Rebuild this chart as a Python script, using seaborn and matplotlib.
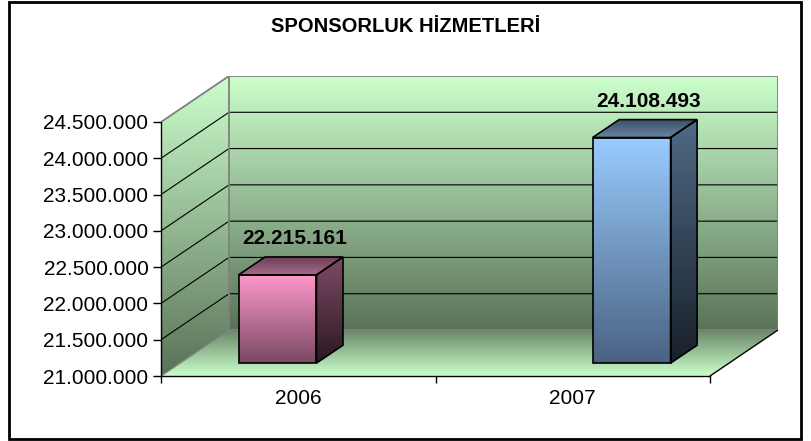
import numpy as np
import pandas as pd
import matplotlib
matplotlib.use("Agg")
import matplotlib.pyplot as plt
from matplotlib.patches import Polygon, Rectangle
from matplotlib.colors import to_rgb
from matplotlib.ticker import FuncFormatter
import seaborn as sns

# veriler
years = ["2006", "2007"]
amounts = [22215161, 24108493]
title = "SPONSORLUK HİZMETLERİ"
y_min, y_max, y_step = 21_000_000, 24_500_000, 500_000

# renkler (üst, alt)
front_cols = [("#FF99CC", "#7A4862"), ("#99CCFF", "#4A6282")]
side_cols = [("#7E4C66", "#2A1822"), ("#506A86", "#18202A")]
top_cols = [("#6E3E58", "#A86A8A"), ("#3E5068", "#6A86A4")]

sns.set_style("white")
plt.rcParams["font.family"] = ["Liberation Sans", "DejaVu Sans"]
plt.rcParams.update({"text.color": "black", "xtick.color": "black",
                     "ytick.color": "black", "axes.labelcolor": "black"})

W, H = 811, 441
fig = plt.figure(figsize=(W / 100, H / 100), dpi=100)

# ön yüz kutusu ve derinlik (piksel)
fx0, fx1, fy0, fy1 = 161, 710, 376, 122
ddx, ddy = 68, 46
ax = fig.add_axes([fx0 / W, 1 - fy0 / H, (fx1 + ddx - fx0) / W, (fy0 - fy1 + ddy) / H])

n = len(years)
xlo, xhi = -0.5, n - 0.5
DX = (xhi - xlo) * ddx / (fx1 - fx0)
DY = (y_max - y_min) * ddy / (fy0 - fy1)


def grad_fill(verts, c_top, c_bot, z, edge="none", lw=0):
    verts = np.asarray(verts, float)
    poly = Polygon(verts, closed=True, facecolor="none", edgecolor=edge, lw=lw, zorder=z + 0.01)
    ax.add_patch(poly)
    t = np.linspace(0, 1, 256)[:, None]
    img = (1 - t) * np.array(to_rgb(c_bot)) + t * np.array(to_rgb(c_top))
    im = ax.imshow(img[:, None, :],
                   extent=[verts[:, 0].min(), verts[:, 0].max(), verts[:, 1].min(), verts[:, 1].max()],
                   origin="lower", aspect="auto", interpolation="bilinear", zorder=z)
    im.set_clip_path(poly)
    return poly


# duvarlar ve zemin
grad_fill([(xlo + DX, y_min + DY), (xhi + DX, y_min + DY), (xhi + DX, y_max + DY), (xlo + DX, y_max + DY)],
          "#CCFFCC", "#5A7258", 0)
grad_fill([(xlo, y_min), (xlo + DX, y_min + DY), (xlo + DX, y_max + DY), (xlo, y_max)],
          "#CCFFCC", "#5A7258", 0)
grad_fill([(xlo, y_min), (xhi, y_min), (xhi + DX, y_min + DY), (xlo + DX, y_min + DY)],
          "#6A8868", "#CCFFCC", 0)

# kılavuz çizgileri
for v in np.arange(y_min + y_step, y_max, y_step):
    ax.plot([xlo, xlo + DX, xhi + DX], [v, v + DY, v + DY], color="black", lw=0.8, zorder=1)

gray = "#808080"
ax.plot([xlo + DX, xlo + DX, xhi + DX, xhi + DX, xlo + DX],
        [y_min + DY, y_max + DY, y_max + DY, y_min + DY, y_min + DY], color=gray, lw=1.3, zorder=1.5)
ax.plot([xlo, xlo + DX], [y_max, y_max + DY], color=gray, lw=1.3, zorder=1.5)
ax.plot([xlo, xlo + DX], [y_min, y_min + DY], color=gray, lw=1.0, zorder=1.5)
ax.plot([xhi, xhi + DX], [y_min, y_min + DY], color="black", lw=1.0, zorder=1.5)

# çubuklar
spread = 1.29
xpos = (np.arange(n) - (n - 1) / 2) * spread + (n - 1) / 2
bar_w = 0.284
d0, d1 = 0.28, 0.67
df = pd.DataFrame({"x": xpos + d0 * DX, "h": amounts})
sns.barplot(data=df, x="x", y="h", native_scale=True, width=bar_w / np.diff(xpos).min(),
            fill=False, color="black", linewidth=1.2, errorbar=None, ax=ax, zorder=4)

for i, (p, v) in enumerate(zip(ax.patches[-n:], amounts)):
    p.set_y(y_min + d0 * DY)
    p.set_height(v - y_min)
    p.set_edgecolor("black")
    p.set_zorder(4)
    xl, xr = p.get_x(), p.get_x() + p.get_width()
    yb, yt = p.get_y(), p.get_y() + p.get_height()
    t = np.linspace(0, 1, 256)[:, None]
    img = (1 - t) * np.array(to_rgb(front_cols[i][1])) + t * np.array(to_rgb(front_cols[i][0]))
    im = ax.imshow(img[:, None, :], extent=[xl, xr, yb, yt], origin="lower", aspect="auto",
                   interpolation="bilinear", zorder=3.9)
    im.set_clip_path(p)
    sx, sy = (d1 - d0) * DX, (d1 - d0) * DY
    grad_fill([(xr, yb), (xr + sx, yb + sy), (xr + sx, yt + sy), (xr, yt)],
              side_cols[i][0], side_cols[i][1], 3.9, edge="black", lw=1.2)
    grad_fill([(xl, yt), (xr, yt), (xr + sx, yt + sy), (xl + sx, yt + sy)],
              top_cols[i][0], top_cols[i][1], 3.9, edge="black", lw=1.2)
    ax.annotate(f"{v:,}".replace(",", "."), xy=((xl + xr) / 2 + sx / 2, yt + sy),
                xytext=(3, 13), textcoords="offset points", ha="center", va="center",
                fontsize=15, fontweight="bold", color="black", zorder=6, annotation_clip=False)

# eksenler
ax.set_xlim(xlo, xhi + DX)
ax.set_ylim(y_min, y_max + DY)
ax.set_xlabel("")
ax.set_ylabel("")
ax.patch.set_visible(False)
for s in ["top", "right"]:
    ax.spines[s].set_visible(False)
for s in ["left", "bottom"]:
    ax.spines[s].set_color("black")
    ax.spines[s].set_linewidth(1.0)
ax.spines["left"].set_bounds(y_min, y_max)
ax.spines["bottom"].set_bounds(xlo, xhi)
ax.set_yticks(np.arange(y_min, y_max + 1, y_step))
ax.yaxis.set_major_formatter(FuncFormatter(lambda v, _: f"{v:,.0f}".replace(",", ".")))
ax.set_xticks(np.arange(xlo, xhi + 0.01, 1.0))
ax.set_xticklabels([])
ax.set_xticks(np.arange(n), minor=True)
ax.set_xticklabels(years, minor=True)
ax.tick_params(axis="x", which="major", bottom=True, length=5, width=1, color="black")
ax.tick_params(axis="x", which="minor", bottom=True, length=0, pad=9, labelsize=15, labelcolor="black")
ax.tick_params(axis="y", left=True, length=6, width=1, color="black", pad=3, labelsize=15, labelcolor="black")

fig.text(406 / W, 1 - 27 / H, title, ha="center", va="center", fontsize=14.5,
         fontweight="bold", color="black")
fig.add_artist(Rectangle((9 / W, 2 / H), 792 / W, 437 / H, transform=fig.transFigure,
                         fill=False, lw=2, edgecolor="black"))

fig.savefig("out.png", dpi=100)
